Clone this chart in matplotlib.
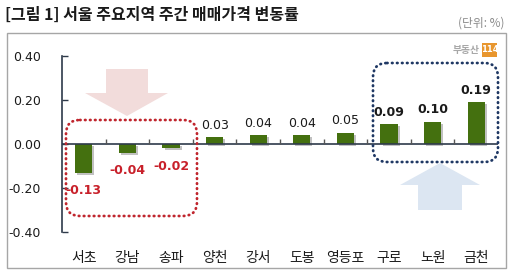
import matplotlib
matplotlib.use("Agg")
import matplotlib.pyplot as plt
from matplotlib.patches import FancyBboxPatch, Polygon, Rectangle
import matplotlib.patheffects as pe

plt.rcParams['font.family'] = ['Noto Sans CJK KR', 'DejaVu Sans']

categories = ['서초', '강남', '송파', '양천', '강서', '도봉', '영등포', '구로', '노원', '금천']
values = [-0.13, -0.04, -0.02, 0.03, 0.04, 0.04, 0.05, 0.09, 0.10, 0.19]
yticks = [-0.40, -0.20, 0.00, 0.20, 0.40]
title = '[그림 1] 서울 주요지역 주간 매매가격 변동률'
unit = '(단위: %)'

W, H = 510, 280
fig = plt.figure(figsize=(W / 100, H / 100), dpi=100)
fig.patch.set_facecolor('white')

# overlay axes in pixel coordinates for decorations
ov = fig.add_axes([0, 0, 1, 1], zorder=0)
ov.set_xlim(0, W)
ov.set_ylim(H, 0)
ov.axis('off')
ov.add_patch(Rectangle((7, 33), 499, 235, fill=False, edgecolor='#a6a6a6', lw=1.0))
# arrows
ov.add_patch(Polygon([(106, 69), (148, 69), (148, 93), (168, 93), (127, 116), (85, 93), (106, 93)],
                     closed=True, facecolor='#f2dcdb', edgecolor='none'))
ov.add_patch(Polygon([(440, 163), (480, 185), (462, 185), (462, 210), (418, 210), (418, 185), (400, 185)],
                     closed=True, facecolor='#dce6f2', edgecolor='none'))

ax = fig.add_axes([62 / W, (H - 232) / H, 436 / W, 176 / H], zorder=1)
ax.patch.set_alpha(0)
n = len(categories)
x = list(range(n))
bars = ax.bar(x, values, width=0.39, color='#44700f', zorder=3)
for b in bars:
    b.set_path_effects([pe.SimplePatchShadow(offset=(1.5, -1.5), shadow_rgbFace='#777777', alpha=0.45), pe.Normal()])

ax.set_xlim(-0.5, n - 0.5)
ax.set_ylim(-0.40, 0.40)
ax.set_yticks(yticks)
ax.set_yticklabels([f'{v:.2f}' for v in yticks], fontsize=9, color='#1a1a1a',
                   family=['DejaVu Sans'])
ax.tick_params(axis='y', direction='in', length=4, width=1, color='#2e3a4a', pad=15)
ax.set_xticks(x)
ax.set_xticklabels(categories, fontsize=10, color='#1a1a1a')
ax.tick_params(axis='x', length=0, pad=14)
for s in ['top', 'right', 'bottom']:
    ax.spines[s].set_visible(False)
ax.spines['left'].set_color('#2e3a4a')
ax.spines['left'].set_linewidth(1.2)
ax.axhline(0, color='#2e3a4a', lw=1.2, zorder=4)
ax.vlines([i + 0.5 for i in range(n - 1)], 0, 0.024, color='#555555', lw=1, zorder=4)

for i, v in enumerate(values):
    if v < 0:
        ax.annotate(f'{v:.2f}', (i, v), xytext=(0, -8), textcoords='offset points',
                    ha='center', va='top', fontsize=9, fontweight='bold', color='#c8202a',
                    family=['DejaVu Sans'])
    else:
        bold = v >= 0.09
        ax.annotate(f'{v:.2f}', (i, v), xytext=(0, 4), textcoords='offset points',
                    ha='center', va='bottom', fontsize=9,
                    fontweight='bold' if bold else 'normal', color='#1a1a1a',
                    family=['DejaVu Sans'])

# dotted rounded boxes (top overlay)
ov2 = fig.add_axes([0, 0, 1, 1], zorder=2)
ov2.set_xlim(0, W)
ov2.set_ylim(H, 0)
ov2.axis('off')
ov2.patch.set_alpha(0)
for (x0, y0, x1, y1, col) in [(66, 120, 197, 216, '#c0262e'), (373, 63, 498, 162, '#1f3864')]:
    p = FancyBboxPatch((x0, y0), x1 - x0, y1 - y0, boxstyle='round,pad=0,rounding_size=14',
                       fill=False, edgecolor=col, lw=2.0, linestyle=(0, (0.2, 1.6)),
                       capstyle='round')
    ov2.add_patch(p)

# logo
ov2.text(480, 50, '부동산', ha='right', va='center', fontsize=7, color='#a8a8a8', fontweight='bold')
ov2.add_patch(Rectangle((482, 43), 15, 14, facecolor='#e8962e', edgecolor='none'))
ov2.text(489.5, 50, '114', ha='center', va='center', fontsize=6, color='white', fontweight='bold',
         family=['DejaVu Sans'])

fig.text(5 / W, 1 - 15 / H, title, ha='left', va='center', fontsize=11.5, fontweight='bold', color='#1a1a1a')
fig.text(505 / W, 1 - 23 / H, unit, ha='right', va='center', fontsize=8.5, color='#8c8c8c')

fig.savefig('out.png', dpi=100, facecolor='white')
